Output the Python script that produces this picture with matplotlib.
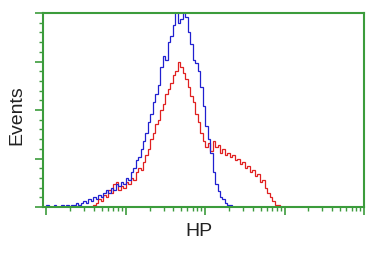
import numpy as np
import matplotlib
matplotlib.use("Agg")
import matplotlib.pyplot as plt
from matplotlib.ticker import LogLocator, MultipleLocator, NullFormatter

# channel counts, 128 log-spaced channels over 4 decades
blue_counts = [1, 0, 0, 1, 0, 0, 1, 0, 1, 0,
               1, 1, 2, 1, 2, 3, 2, 4, 3, 5,
               4, 6, 5, 7, 9, 7, 10, 9, 12, 11,
               13, 12, 15, 14, 18, 20, 24, 26, 30, 34,
               38, 44, 48, 54, 58, 63, 72, 78, 76, 85,
               88, 94, 104, 95, 97, 103, 98, 90, 84, 76,
               74, 70, 62, 52, 42, 35, 28, 18, 12, 8,
               5, 4, 2, 1, 1, 0]
red_counts = [0, 0, 0, 0, 0, 0, 0, 0, 0, 0,
              0, 0, 0, 0, 0, 0, 0, 0, 0, 1,
              2, 4, 3, 6, 5, 9, 7, 12, 13, 9,
              11, 10, 13, 12, 15, 14, 18, 20, 19, 23,
              27, 30, 35, 38, 43, 45, 50, 53, 58, 61,
              64, 68, 70, 75, 72, 69, 66, 62, 57, 54,
              48, 44, 38, 34, 31, 33, 29, 34, 31, 32,
              28, 30, 27, 28, 26, 27, 24, 25, 22, 23,
              20, 21, 18, 19, 16, 17, 13, 14, 10, 7,
              5, 3, 1, 1, 0]
n_channels = 128
x_label = "HP"
y_label = "Events"

green = "#3c9c3c"
edges = np.logspace(0, 4, n_channels + 1)

fig = plt.figure(figsize=(3.85, 2.56), dpi=100)
ax = fig.add_axes([43 / 385, 1 - 207 / 256, 321 / 385, 194 / 256])

ax.stairs(red_counts, edges[:len(red_counts) + 1], color="#e02020", lw=0.9)
ax.stairs(blue_counts, edges[:len(blue_counts) + 1], color="#2020d0", lw=0.9)

ax.set_xscale("log")
ax.set_xlim(10 ** -0.04, 1e4)
ax.set_ylim(0, 100)

ax.xaxis.set_major_locator(LogLocator(base=10, numticks=10))
ax.xaxis.set_minor_locator(LogLocator(base=10, subs=np.arange(2, 10), numticks=10))
ax.xaxis.set_major_formatter(NullFormatter())
ax.xaxis.set_minor_formatter(NullFormatter())
ax.yaxis.set_major_locator(MultipleLocator(25))
ax.yaxis.set_minor_locator(MultipleLocator(5))
ax.yaxis.set_major_formatter(NullFormatter())

ax.tick_params(which="major", direction="out", length=6, width=1.2, color=green)
ax.tick_params(which="minor", direction="out", length=3, width=1.0, color=green)

for s in ax.spines.values():
    s.set_color(green)
    s.set_linewidth(1.5)

fig.text(199 / 385, 1 - 232 / 256, x_label, fontsize=14, family="Liberation Sans",
         color="#222222", ha="center", va="center")
fig.text(17 / 385, 1 - 115 / 256, y_label, fontsize=14, family="Liberation Sans",
         color="#222222", ha="center", va="center", rotation=90)

fig.savefig("out.png", dpi=100)
